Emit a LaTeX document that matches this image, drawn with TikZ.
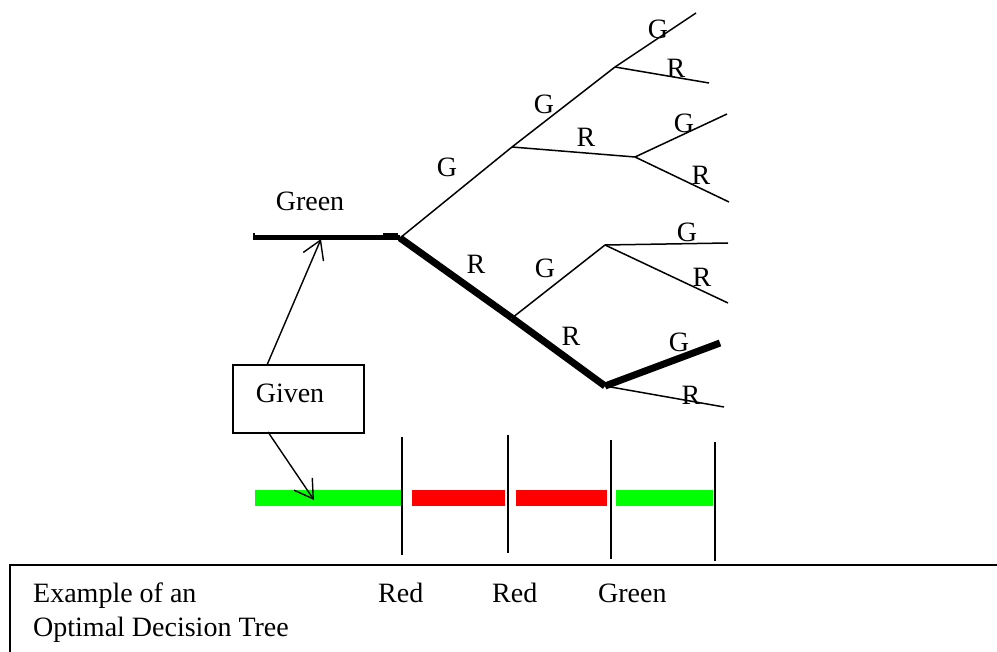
\documentclass[tikz,border=0pt]{standalone}
\usepackage{fontspec}
\setmainfont{Liberation Serif}
\usetikzlibrary{arrows.meta}
\begin{document}
\begin{tikzpicture}[x=1pt,y=-1pt,
  thin branch/.style={line width=1.5pt},
  thick branch/.style={line width=7pt},
  lbl/.style={inner sep=0pt,font=\fontsize{28}{33}\selectfont},
  sep/.style={line width=1.6pt},
  arr/.style={line width=1.4pt,-{Straight Barb[length=18pt,width=22pt,line width=1.4pt]}}]
\useasboundingbox (0,0) rectangle (997,652);
% junctions
\coordinate (s) at (253,238);
\coordinate (r) at (400,238);
\coordinate (a) at (512,147);
\coordinate (b) at (512,318);
\coordinate (aa) at (615,67);
\coordinate (ab) at (635,157);
\coordinate (ba) at (605,245);
\coordinate (bb) at (605,386);
\coordinate (aag) at (696,13);
\coordinate (aar) at (709,83);
\coordinate (abg) at (727,114);
\coordinate (abr) at (729,202);
\coordinate (bag) at (728,243);
\coordinate (bar) at (728,303);
\coordinate (bbg) at (720,343);
\coordinate (bbr) at (724,407);
% given part
\draw[line width=5pt] (s) -- (r);
\draw[line width=2pt] (254,233) -- (254,240);
\draw[line width=7pt] (383,236.5) -- (398,236.5);
% tree
\draw[thin branch] (r) -- (a);
\draw[thin branch] (a) -- (aa);
\draw[thin branch] (aa) -- (aag);
\draw[thin branch] (aa) -- (aar);
\draw[thin branch] (a) -- (ab);
\draw[thin branch] (ab) -- (abg);
\draw[thin branch] (ab) -- (abr);
\draw[thick branch] (r) -- (b);
\draw[thin branch] (b) -- (ba);
\draw[thin branch] (ba) -- (bag);
\draw[thin branch] (ba) -- (bar);
\draw[thick branch] (b) -- (bb);
\draw[thick branch] (bb) -- (bbg);
\draw[thin branch] (bb) -- (bbr);
% labels
\node[lbl] (lgreen) at (310,201) {Green};
\node[lbl] (l1) at (447,167) {G};
\node[lbl] (l2) at (544,104) {G};
\node[lbl] (l3) at (658,29) {G};
\node[lbl] (l4) at (676,68) {R};
\node[lbl] (l5) at (586,137) {R};
\node[lbl] (l6) at (684,123) {G};
\node[lbl] (l7) at (701,175) {R};
\node[lbl] (l8) at (476,264) {R};
\node[lbl] (l9) at (545,268) {G};
\node[lbl] (l10) at (571,336) {R};
\node[lbl] (l11) at (687,232) {G};
\node[lbl] (l12) at (702,277) {R};
\node[lbl] (l13) at (679,342) {G};
\node[lbl] (l14) at (691,395) {R};
% bars
\fill[green] (255,490.5) rectangle (403,505.5);
\fill[red] (412,490.5) rectangle (505,505.5);
\fill[red] (516,490.5) rectangle (607,505.5);
\fill[green] (616,490.5) rectangle (713,505.5);
\coordinate (v1t) at (402,437); \coordinate (v1b) at (402,555);
\coordinate (v2t) at (508,435); \coordinate (v2b) at (508,553);
\coordinate (v3t) at (611,440); \coordinate (v3b) at (611,559);
\coordinate (v4t) at (715,442); \coordinate (v4b) at (715,561);
\draw[sep] (v1t) -- (v1b);
\draw[sep] (v2t) -- (v2b);
\draw[sep] (v3t) -- (v3b);
\draw[sep] (v4t) -- (v4b);
% Given box
\node[draw,line width=1.5pt,minimum width=131pt,minimum height=68pt,inner sep=0pt] (given) at (298.5,399) {};
\node[lbl] (giventxt) at (290,393) {Given};
\coordinate (t1) at (321,239);
\coordinate (t2) at (314,500);
\draw[arr] (267,365) -- (t1);
\draw[arr] (268,432) -- (t2);
% bottom box
\draw[line width=1.5pt] (1000,565) -- (10,565) -- (10,660);
\node[lbl,anchor=base west] (ex1) at (33,602) {Example of an};
\node[lbl,anchor=base west] (ex2) at (33,636) {Optimal Decision Tree};
\node[lbl,anchor=base west] (red1) at (378,602) {Red};
\node[lbl,anchor=base west] (red2) at (492,602) {Red};
\node[lbl,anchor=base west] (grn) at (598,602) {Green};
\end{tikzpicture}
\end{document}
